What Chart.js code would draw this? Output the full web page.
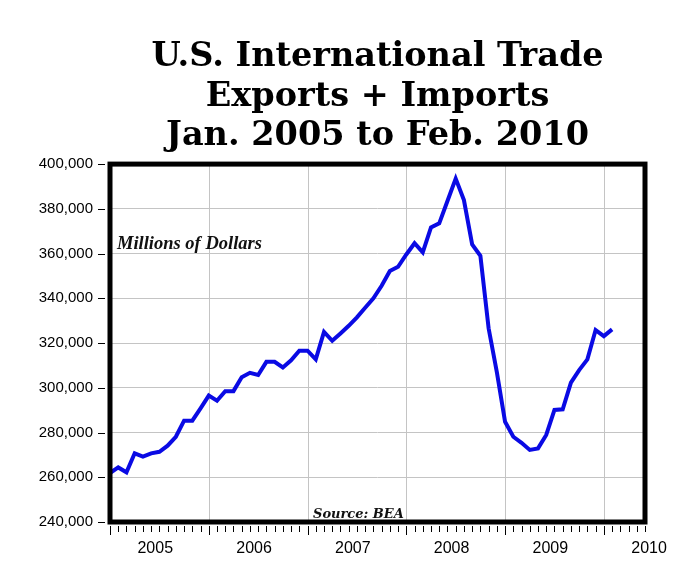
<!DOCTYPE html>
<html>
<head>
<meta charset="utf-8">
<script src="https://cdn.jsdelivr.net/npm/chart.js@4.4.1/dist/chart.umd.min.js"></script>
<style>
  html, body { margin: 0; padding: 0; background: #fff; }
  #wrap { width: 700px; height: 587px; }
</style>
</head>
<body>
<div id="wrap"><canvas id="c" width="700" height="587"></canvas></div>
<script>
// ---- data ----
const months = [
  'Jan 2005','Feb 2005','Mar 2005','Apr 2005','May 2005','Jun 2005','Jul 2005','Aug 2005','Sep 2005','Oct 2005','Nov 2005','Dec 2005',
  'Jan 2006','Feb 2006','Mar 2006','Apr 2006','May 2006','Jun 2006','Jul 2006','Aug 2006','Sep 2006','Oct 2006','Nov 2006','Dec 2006',
  'Jan 2007','Feb 2007','Mar 2007','Apr 2007','May 2007','Jun 2007','Jul 2007','Aug 2007','Sep 2007','Oct 2007','Nov 2007','Dec 2007',
  'Jan 2008','Feb 2008','Mar 2008','Apr 2008','May 2008','Jun 2008','Jul 2008','Aug 2008','Sep 2008','Oct 2008','Nov 2008','Dec 2008',
  'Jan 2009','Feb 2009','Mar 2009','Apr 2009','May 2009','Jun 2009','Jul 2009','Aug 2009','Sep 2009','Oct 2009','Nov 2009','Dec 2009',
  'Jan 2010','Feb 2010'
];
const tradeValues = [
  261900, 264400, 262200, 270700, 269200, 270700, 271400, 274100, 278100, 285300, 285300, 290800,
  296500, 294200, 298500, 298500, 304700, 306700, 305700, 311600, 311600, 309100, 312300, 316600,
  316600, 312700, 325000, 321000, 324300, 327700, 331500, 335800, 340000, 345600, 352200, 354100,
  359600, 364600, 360500, 371700, 373500, 383500, 393500, 383900, 364100, 359000, 326600, 307000,
  284800, 278100, 275400, 272200, 272900, 278900, 290100, 290400, 302300, 307900, 312700, 325800,
  323100, 326100
];
const yearLabels = ['2005', '2006', '2007', '2008', '2009', '2010'];
const yTickValues = [240000, 260000, 280000, 300000, 320000, 340000, 360000, 380000, 400000];
const axisMonths = 65; // axis runs Jan 2005 .. Jun 2010
const titleLines = ['U.S. International Trade', 'Exports + Imports', 'Jan. 2005 to Feb. 2010'];
const unitNote = 'Millions of Dollars';
const sourceNote = 'Source: BEA';

// ---- plugin for frame, ticks, year labels and notes ----
const framePlugin = {
  id: 'frame',
  beforeDatasetsDraw(chart) {
    const { ctx, chartArea: a, scales: { x } } = chart;
    ctx.save();
    ctx.strokeStyle = '#c4c4c4';
    ctx.lineWidth = 1;
    for (let m = 12; m < axisMonths; m += 12) {
      const px = Math.round(x.getPixelForValue(m)) + 0.5;
      ctx.beginPath(); ctx.moveTo(px, a.top); ctx.lineTo(px, a.bottom); ctx.stroke();
    }
    ctx.restore();
  },
  afterDatasetsDraw(chart) {
    const { ctx, chartArea: a, scales: { x, y } } = chart;
    ctx.save();
    // frame
    ctx.strokeStyle = '#000';
    ctx.lineWidth = 5;
    ctx.strokeRect(a.left, a.top, a.right - a.left, a.bottom - a.top);
    // x tick marks
    ctx.lineWidth = 1;
    for (let m = 0; m <= axisMonths; m++) {
      const px = Math.round(x.getPixelForValue(m)) + 0.5;
      const len = (m % 12 === 0) ? 9 : 6;
      ctx.beginPath(); ctx.moveTo(px, a.bottom + 4); ctx.lineTo(px, a.bottom + 4 + len); ctx.stroke();
    }
    // y tick marks
    yTickValues.forEach(v => {
      const py = Math.round(y.getPixelForValue(v)) + 0.5;
      ctx.beginPath(); ctx.moveTo(a.left - 12, py); ctx.lineTo(a.left - 5, py); ctx.stroke();
    });
    // year labels
    ctx.fillStyle = '#000';
    ctx.font = '16px "Liberation Sans", Arial, sans-serif';
    ctx.textAlign = 'center';
    ctx.textBaseline = 'alphabetic';
    yearLabels.forEach((lab, i) => {
      ctx.fillText(lab, x.getPixelForValue(i * 12 + 5.5), a.bottom + 31);
    });
    // notes
    ctx.textAlign = 'left';
    ctx.fillStyle = '#111';
    ctx.font = 'italic bold 18.5px "Liberation Serif", "DejaVu Serif", serif';
    ctx.fillText(unitNote, a.left + 7, 249);
    ctx.font = 'italic bold 13px "DejaVu Serif", "Liberation Serif", serif';
    ctx.fillText(sourceNote, 313, a.bottom - 4);
    ctx.restore();
  }
};

new Chart(document.getElementById('c'), {
  type: 'line',
  data: {
    labels: months,
    datasets: [{
      label: 'Exports + Imports',
      data: tradeValues.map((v, i) => ({ x: i, y: v })),
      borderColor: 'rgb(10,10,228)',
      borderWidth: 4,
      pointRadius: 0,
      tension: 0,
      fill: false,
      borderJoinStyle: 'miter'
    }]
  },
  options: {
    responsive: false,
    animation: false,
    devicePixelRatio: 1,
    layout: { padding: { left: 0, right: 55, top: 0, bottom: 0 } },
    plugins: {
      legend: { display: false },
      tooltip: { enabled: false },
      title: {
        display: true,
        fullSize: false,
        text: titleLines,
        color: '#000',
        font: { family: '"DejaVu Serif", serif', size: 33.5, weight: 'bold', lineHeight: 1.19 },
        padding: { top: 37, bottom: 7.5 }
      }
    },
    scales: {
      x: {
        type: 'linear',
        min: 0,
        max: axisMonths,
        ticks: { display: false },
        grid: { display: false },
        border: { display: false },
        afterFit(s) { s.height = 65; }
      },
      y: {
        min: yTickValues[0],
        max: yTickValues[yTickValues.length - 1],
        afterBuildTicks(s) { s.ticks = yTickValues.map(v => ({ value: v })); },
        ticks: {
          color: '#000',
          padding: 17,
          font: { family: '"Liberation Sans", Arial, sans-serif', size: 15 },
          callback: v => v.toLocaleString('en-US')
        },
        grid: { color: '#c4c4c4', drawTicks: false },
        border: { display: false },
        afterFit(s) { s.width = 110; }
      }
    }
  },
  plugins: [framePlugin]
});
</script>
</body>
</html>
